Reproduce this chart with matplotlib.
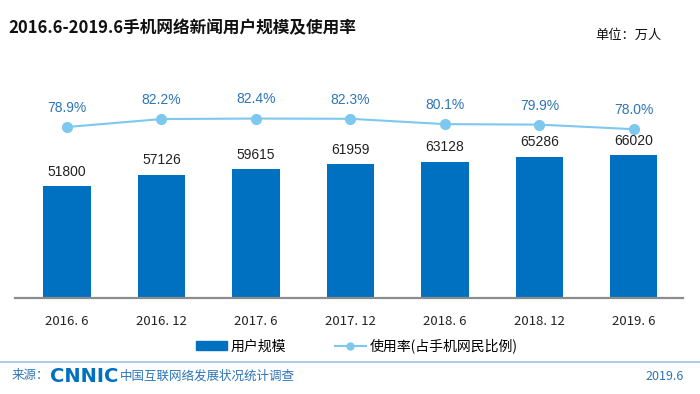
import matplotlib
matplotlib.use('Agg')
import matplotlib.pyplot as plt
from matplotlib.lines import Line2D
from matplotlib.patches import Patch

plt.rcParams['font.family'] = ['Noto Sans CJK SC', 'DejaVu Sans']

# data
periods = ['2016. 6', '2016. 12', '2017. 6', '2017. 12', '2018. 6', '2018. 12', '2019. 6']
users = [51800, 57126, 59615, 61959, 63128, 65286, 66020]
rate = [78.9, 82.2, 82.4, 82.3, 80.1, 79.9, 78.0]

bar_color = '#0070C0'
line_color = '#7DC8EE'
pct_color = '#2E75B6'

fig = plt.figure(figsize=(7, 3.94), dpi=100)

ax = fig.add_axes([15 / 700, 96 / 394, 668 / 700, 238 / 394])
ax.set_facecolor('none')
x = list(range(len(periods)))
bars = ax.bar(x, users, width=0.5, color=bar_color, zorder=2)
ax.set_xlim(-0.55, 6.52)
ax.set_ylim(0, 110150)
for xi, v in zip(x, users):
    ax.text(xi, v + 3500, str(v), ha='center', va='bottom', fontsize=10,
            color='#222222', family=['Liberation Sans', 'DejaVu Sans'])

for s in ['top', 'right', 'left']:
    ax.spines[s].set_visible(False)
ax.spines['bottom'].set_color('#8c8c8c')
ax.spines['bottom'].set_linewidth(1.6)
ax.set_yticks([])
ax.set_xticks(x)
ax.set_xticklabels(periods, fontsize=9.5, color='#222222')
ax.tick_params(axis='x', length=0, pad=12)

ax2 = ax.twinx()
ax2.set_ylim(8.24, 106.6)
ax2.axis('off')
ln, = ax2.plot(x, rate, color=line_color, lw=1.5, marker='o', markersize=7,
               markerfacecolor=line_color, markeredgecolor=line_color, zorder=3)
for xi, r in zip(x, rate):
    ax2.text(xi, r + 5, '%.1f%%' % r, ha='center', va='bottom', fontsize=10,
             color=pct_color, family=['Liberation Sans', 'DejaVu Sans'])

handles = [Patch(color=bar_color),
           Line2D([0], [0], color=line_color, lw=1.5, marker='o', markersize=5)]
fig.legend(handles, ['用户规模', '使用率(占手机网民比例)'], loc='center',
           bbox_to_anchor=(0.51, 1 - 346 / 394), ncol=2, frameon=False,
           fontsize=10, handlelength=2.2, handleheight=0.7, columnspacing=3.5,
           handletextpad=0.3)

# title and unit
fig.text(8 / 700, 1 - 28 / 394, '2016.6-2019.6手机网络新闻用户规模及使用率',
         fontsize=12, fontweight='bold', va='center', color='#111111')
fig.text(662 / 700, 1 - 35 / 394, '单位：万人', fontsize=9.5, ha='right', va='center',
         color='#111111')

# footer
fig.add_artist(Line2D([0, 1], [1 - 362 / 394] * 2, color='#9DC3E6', lw=1.2))
fig.text(12 / 700, 1 - 376 / 394, '来源：', fontsize=9, va='center', color='#2E75B6')
fig.text(50 / 700, 1 - 376 / 394, 'CNNIC', fontsize=14, fontweight='bold', va='center',
         color='#0070C0', family=['DejaVu Sans'])
fig.text(120 / 700, 1 - 376 / 394, '中国互联网络发展状况统计调查', fontsize=9,
         va='center', color='#2E75B6')
fig.text(684 / 700, 1 - 376 / 394, '2019.6', fontsize=9, ha='right', va='center',
         color='#2E75B6')

fig.savefig('out.png', dpi=100)
